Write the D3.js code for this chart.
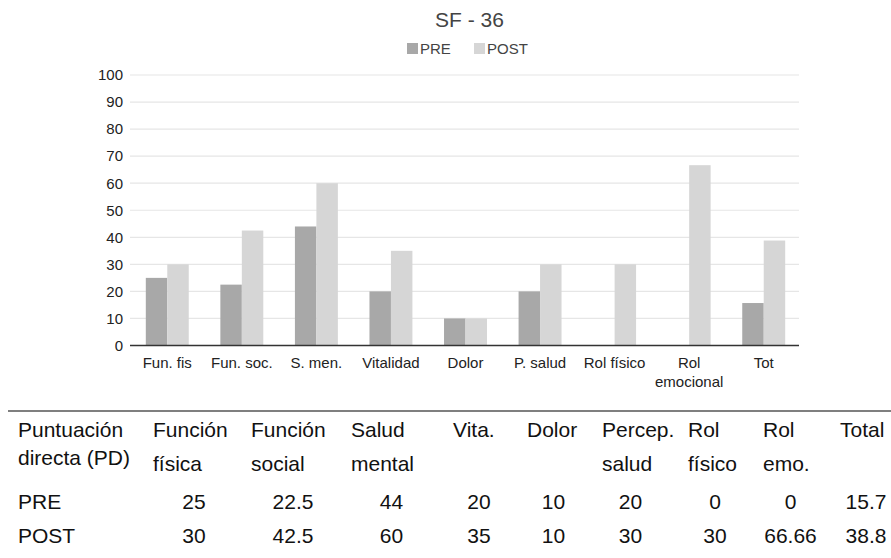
<!DOCTYPE html>
<html>
<head>
<meta charset="utf-8">
<script src="https://cdn.jsdelivr.net/npm/d3@7"></script>
<style>
  html, body { margin: 0; padding: 0; background: #fff; }
  svg { display: block; font-family: "Liberation Sans", Arial, Helvetica, sans-serif; }
</style>
</head>
<body>
<svg id="chart" width="891" height="558"></svg>
<script>
// ---- data ----
const categories = ["Fun. fis", "Fun. soc.", "S. men.", "Vitalidad", "Dolor", "P. salud", "Rol físico", "Rol emocional", "Tot"];
const seriesNames = ["PRE", "POST"];
const preValues  = [25, 22.5, 44, 20, 10, 20, 0, 0, 15.7];
const postValues = [30, 42.5, 60, 35, 10, 30, 30, 66.66, 38.8];
const yTicks = [0, 10, 20, 30, 40, 50, 60, 70, 80, 90, 100];
const chartTitle = "SF - 36";
const tableCorner = ["Puntuación", "directa (PD)"];
const tableHeaderLine1 = ["Función", "Función", "Salud", "Vita.", "Dolor", "Percep.", "Rol", "Rol", "Total"];
const tableHeaderLine2 = ["física", "social", "mental", "", "", "salud", "físico", "emo.", ""];
const tableRowLabels = ["PRE", "POST"];

// ---- layout ----
const colors = {PRE: "#a8a8a8", POST: "#d6d6d6"};
const svg = d3.select("#chart");
const plot = {left: 130, right: 801, top: 75, bottom: 345.5};

const x0 = d3.scaleBand().domain(categories).range([plot.left, plot.right])
  .paddingInner(0.424).paddingOuter(0.212);
const x1 = d3.scaleBand().domain(seriesNames).range([0, x0.bandwidth()]);
const y = d3.scaleLinear().domain([0, 100]).range([plot.bottom, plot.top]);

// gridlines
svg.append("g").selectAll("line").data(yTicks.filter(d => d > 0)).join("line")
  .attr("x1", plot.left).attr("x2", 799)
  .attr("y1", d => y(d)).attr("y2", d => y(d))
  .attr("stroke", "#e6e6e6").attr("stroke-width", 1.2);

// y axis labels
const yAxis = d3.axisLeft(y).tickValues(yTicks).tickSize(0).tickPadding(7);
const yg = svg.append("g").attr("transform", `translate(${plot.left},0)`).call(yAxis);
yg.select(".domain").remove();
yg.selectAll("text").attr("font-size", 15).attr("fill", "#222")
  .attr("font-family", "Liberation Sans, Arial, sans-serif");

// bars
const rows = categories.map((c, i) => ({cat: c, PRE: preValues[i], POST: postValues[i]}));
const groups = svg.append("g").selectAll("g").data(rows).join("g")
  .attr("transform", d => `translate(${x0(d.cat)},0)`);
groups.selectAll("rect").data(d => seriesNames.map(s => ({s, v: d[s]}))).join("rect")
  .attr("x", d => x1(d.s)).attr("width", x1.bandwidth())
  .attr("y", d => y(d.v)).attr("height", d => y(0) - y(d.v))
  .attr("fill", d => colors[d.s]);

// x axis line
svg.append("line").attr("x1", plot.left).attr("x2", 799)
  .attr("y1", y(0)).attr("y2", y(0)).attr("stroke", "#333").attr("stroke-width", 1.4);

// x labels
const xl = svg.append("g").selectAll("text").data(categories).join("text")
  .attr("x", d => x0(d) + x0.bandwidth() / 2)
  .attr("y", 367.5)
  .attr("text-anchor", "middle")
  .attr("font-size", 15).attr("fill", "#222");
xl.each(function(d) {
  const el = d3.select(this);
  if (d === "Rol emocional") {
    el.append("tspan").attr("x", x0(d) + x0.bandwidth() / 2).attr("dy", 0).text("Rol");
    el.append("tspan").attr("x", x0(d) + x0.bandwidth() / 2).attr("dy", 19.5).text("emocional");
  } else {
    el.text(d);
  }
});

// title
svg.append("text").attr("x", 469.5).attr("y", 26.5).attr("text-anchor", "middle")
  .attr("font-size", 21).attr("fill", "#444").text(chartTitle);

// legend
const legendPos = [407, 474];
const lg = svg.append("g").selectAll("g").data(seriesNames).join("g")
  .attr("transform", (d, i) => `translate(${legendPos[i]},0)`);
lg.append("rect").attr("x", 0).attr("y", 43).attr("width", 11).attr("height", 11)
  .attr("fill", d => colors[d]);
lg.append("text").attr("x", 13).attr("y", 54).attr("font-size", 15).attr("fill", "#444").text(d => d);

// ---- table ----
svg.append("line").attr("x1", 8).attr("x2", 891).attr("y1", 411).attr("y2", 411)
  .attr("stroke", "#555").attr("stroke-width", 1.5);

const tfont = 21;
const colLeft = [153, 251, 351, 453, 527, 602, 688, 763, 840];
const numCenter = [194, 293, 391.5, 479, 553.5, 630.5, 715, 790.5, 866];
const t = svg.append("g").attr("font-size", tfont).attr("fill", "#111");

t.append("text").attr("x", 18).attr("y", 436.5).text(tableCorner[0]);
t.append("text").attr("x", 18).attr("y", 464.5).text(tableCorner[1]);

t.selectAll(".h1").data(tableHeaderLine1).join("text").attr("class", "h1")
  .attr("x", (d, i) => colLeft[i]).attr("y", 436.5).text(d => d);
t.selectAll(".h2").data(tableHeaderLine2).join("text").attr("class", "h2")
  .attr("x", (d, i) => colLeft[i]).attr("y", 471).text(d => d);

const rowY = [508.5, 543];
const tableValues = [preValues, postValues];
tableRowLabels.forEach((lab, r) => {
  t.append("text").attr("x", 18).attr("y", rowY[r]).text(lab);
  t.selectAll(".r" + r).data(tableValues[r]).join("text").attr("class", "r" + r)
    .attr("x", (d, i) => numCenter[i]).attr("y", rowY[r])
    .attr("text-anchor", "middle").text(d => String(d));
});
</script>
</body>
</html>
